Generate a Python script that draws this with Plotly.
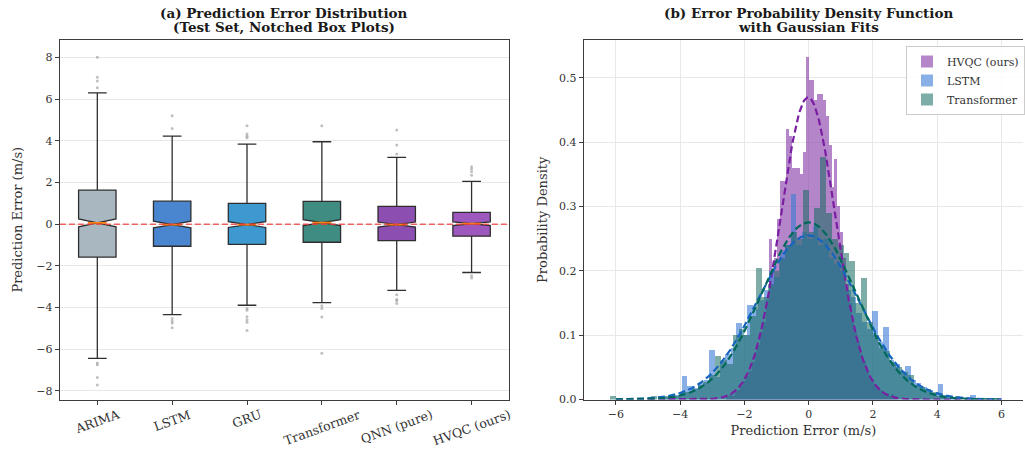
import numpy as np
import plotly.graph_objects as go

# ---------------- data: panel (a) box plots ----------------
models = ["ARIMA", "LSTM", "GRU", "Transformer", "QNN (pure)", "HVQC (ours)"]
q1 = [-1.58, -1.06, -0.97, -0.87, -0.79, -0.58]
median = [0.06, -0.02, -0.02, 0.07, -0.02, 0.02]
q3 = [1.63, 1.10, 1.00, 1.09, 0.85, 0.56]
lower_whisker = [-6.44, -4.34, -3.89, -3.76, -3.18, -2.32]
upper_whisker = [6.29, 4.22, 3.84, 3.95, 3.20, 2.05]
notch_half = [0.19, 0.16, 0.14, 0.14, 0.12, 0.09]

arima_fliers = [8.0, 7.04, 6.86, 6.54, -6.66, -6.74, -7.35, -7.71]
lstm_fliers = [5.2, 4.59, -4.53, -4.65, -4.74, -4.97]
gru_fliers = [4.72, 4.32, 4.22, 4.14, -4.05, -4.13, -4.44, -4.58, -4.71, -5.1]
transformer_fliers = [4.72, -3.92, -4.05, -4.45, -6.19]
qnn_fliers = [4.51, 3.79, 3.36, -3.39, -3.61, -3.68, -3.81]
hvqc_fliers = [2.75, 2.64, 2.51, 2.35, -2.47, -2.58]

box_colors = ["#a9b7c0", "#4a86cf", "#3f99d1", "#3f8c82", "#8c4fb1", "#9e57bc"]

# ---------------- data: panel (b) histograms (density) ----------------
hist_names = ["HVQC (ours)", "LSTM", "Transformer"]
hist_start = [-2.58, -4.97, -6.19]
hist_width = [0.0888, 0.1695, 0.1818]
hvqc_density = [0.005, 0.008, 0.006, 0.012, 0.014, 0.021, 0.028, 0.036, 0.045, 0.058,
                0.074, 0.085, 0.105, 0.12, 0.155, 0.25, 0.20, 0.22, 0.28, 0.34,
                0.34, 0.42, 0.41, 0.36, 0.36, 0.36, 0.35, 0.385, 0.532, 0.497,
                0.497, 0.466, 0.475, 0.475, 0.466, 0.44, 0.395, 0.33, 0.373, 0.30,
                0.26, 0.22, 0.18, 0.15, 0.125, 0.105, 0.09, 0.07, 0.06, 0.045,
                0.036, 0.03, 0.024, 0.018, 0.014, 0.009, 0.01, 0.006, 0.008, 0.005]
lstm_density = [0.0035, 0.0, 0.0035, 0.0035, 0.007, 0.007, 0.036, 0.021, 0.018, 0.025,
                0.03, 0.077, 0.035, 0.06, 0.07, 0.08, 0.119, 0.10, 0.147, 0.14,
                0.155, 0.17, 0.20, 0.19, 0.23, 0.24, 0.32, 0.24, 0.26, 0.25,
                0.27, 0.24, 0.25, 0.22, 0.21, 0.20, 0.17, 0.16, 0.134, 0.12,
                0.11, 0.137, 0.09, 0.112, 0.062, 0.055, 0.045, 0.052, 0.03, 0.025,
                0.02, 0.014, 0.01, 0.024, 0.007, 0.004, 0.0035, 0.0, 0.0035, 0.007]
transformer_density = [0.005, 0.0, 0.0, 0.0, 0.0, 0.0, 0.0, 0.005, 0.0, 0.005,
                       0.005, 0.005, 0.011, 0.011, 0.016, 0.022, 0.027, 0.038, 0.067, 0.062,
                       0.055, 0.10, 0.11, 0.10, 0.13, 0.205, 0.16, 0.18, 0.20, 0.22,
                       0.24, 0.26, 0.25, 0.326, 0.26, 0.297, 0.376, 0.29, 0.25, 0.24,
                       0.227, 0.215, 0.15, 0.188, 0.12, 0.10, 0.08, 0.075, 0.059, 0.05,
                       0.043, 0.038, 0.022, 0.02, 0.016, 0.011, 0.005, 0.005, 0.0, 0.005]
hist_fill = ["rgba(142,68,173,0.65)", "rgba(58,123,213,0.6)", "rgba(20,105,95,0.55)"]

# Gaussian fit parameters
fit_mean = [-0.02, -0.02, 0.0]
fit_std = [0.85, 1.565, 1.45]
fit_colors = ["#7b1fa2", "#1565c0", "#00695c"]
fit_xmin, fit_xmax = -6.0, 6.0

title_a = ["(a) Prediction Error Distribution", "(Test Set, Notched Box Plots)"]
title_b = ["(b) Error Probability Density Function", "with Gaussian Fits"]

# ---------------- figure ----------------
W, H = 1025, 450
fig = go.Figure()

fliers = [arima_fliers, lstm_fliers, gru_fliers, transformer_fliers, qnn_fliers, hvqc_fliers]
for i, m in enumerate(models):
    fig.add_trace(go.Box(
        x=[i], q1=[q1[i]], median=[median[i]], q3=[q3[i]],
        lowerfence=[lower_whisker[i]], upperfence=[upper_whisker[i]],
        notched=True, notchspan=[notch_half[i]], notchwidth=0.5,
        width=0.5, whiskerwidth=0.5, boxpoints=False,
        fillcolor=box_colors[i], line=dict(color="#2e2e2e", width=1.3),
        name=m, showlegend=False, hoverinfo="skip",
        xaxis="x", yaxis="y"))

# outliers
fx, fy = [], []
for i, fl in enumerate(fliers):
    fx += [i] * len(fl)
    fy += fl
fig.add_trace(go.Scatter(x=fx, y=fy, mode="markers",
                         marker=dict(size=3, color="rgba(150,150,150,0.6)"),
                         showlegend=False, xaxis="x", yaxis="y", hoverinfo="skip"))

# orange median segments
mx, my = [], []
for i in range(len(models)):
    hw = 0.5 * 0.5 * 0.5
    mx += [i - hw, i + hw, None]
    my += [median[i], median[i], None]
fig.add_trace(go.Scatter(x=mx, y=my, mode="lines",
                         line=dict(color="#ff7f0e", width=1.7),
                         showlegend=False, xaxis="x", yaxis="y", hoverinfo="skip"))

# histograms
dens = [hvqc_density, lstm_density, transformer_density]
for k, name in enumerate(hist_names):
    centers = [hist_start[k] + hist_width[k] * (j + 0.5) for j in range(len(dens[k]))]
    fig.add_trace(go.Bar(x=centers, y=dens[k], width=hist_width[k],
                         marker=dict(color=hist_fill[k], line=dict(width=0)),
                         name=name, xaxis="x2", yaxis="y2", hoverinfo="skip"))

# Gaussian fits
xs = np.linspace(fit_xmin, fit_xmax, 400)
for k, name in enumerate(hist_names):
    pdf = np.exp(-0.5 * ((xs - fit_mean[k]) / fit_std[k]) ** 2) / (fit_std[k] * np.sqrt(2 * np.pi))
    fig.add_trace(go.Scatter(x=xs, y=pdf, mode="lines",
                             line=dict(color=fit_colors[k], width=2.2, dash="7px,3.5px"),
                             showlegend=False, xaxis="x2", yaxis="y2", hoverinfo="skip"))

font_family = "DejaVu Serif"
axis_common = dict(showline=True, linecolor="#3c3c3c", linewidth=1.2, ticks="outside",
                   ticklen=4, tickcolor="#3c3c3c", zeroline=False, automargin=False,
                   tickfont=dict(family=font_family, size=11, color="#333"),
                   gridcolor="#e8e8e8", gridwidth=1)
title_font = dict(family=font_family, size=13, color="#333")

ydom = [1 - 399.5 / H, 1 - 40 / H]

# rotated, centre-aligned category labels (as in the reference)
cat_labels = [dict(text=m, x=i, xref="x", y=1 - 404 / H, yref="paper",
                   xanchor="center", yanchor="top", textangle=-20, showarrow=False,
                   font=dict(family=font_family, size=12.5, color="#333"))
              for i, m in enumerate(models)]

titles = []
for cx, lines in [((60 + 510) / 2, title_a), ((585 + 1035) / 2, title_b)]:
    for li, (txt, cy) in enumerate(zip(lines, [13, 27])):
        titles.append(dict(text="<b>" + txt + "</b>", x=cx / W, y=1 - cy / H,
                           xref="paper", yref="paper", xanchor="center", yanchor="middle",
                           showarrow=False,
                           font=dict(family=font_family, size=13.5, color="#1a1a1a")))

fig.update_layout(
    width=W, height=H, margin=dict(l=0, r=0, t=0, b=0),
    paper_bgcolor="white", plot_bgcolor="white",
    font=dict(family=font_family, size=11, color="#333"),
    barmode="overlay", bargap=0,
    xaxis=dict(domain=[60 / W, 510 / W], range=[-0.5, 5.5], tickvals=list(range(len(models))),
               showticklabels=False, showgrid=False, mirror=True, anchor="y",
               **axis_common),
    yaxis=dict(domain=ydom, range=[-8.41, 8.83], tickvals=list(range(-8, 9, 2)),
               showgrid=True, mirror=True, anchor="x",
               title=dict(text="Prediction Error (m/s)", standoff=10, font=title_font),
               **axis_common),
    xaxis2=dict(domain=[585 / W, 1.0], range=[-7.0, 6.67], tickvals=list(range(-6, 7, 2)),
                showgrid=True, mirror=True, anchor="y2",
                title=dict(text="Prediction Error (m/s)", standoff=6, font=title_font),
                **axis_common),
    yaxis2=dict(domain=ydom, range=[0, 0.5585], tickvals=[0, 0.1, 0.2, 0.3, 0.4, 0.5],
                tickformat=".1f", showgrid=True, mirror=False, anchor="x2",
                title=dict(text="Probability Density", standoff=8, font=title_font),
                **axis_common),
    legend=dict(x=908 / W, y=1 - 46 / H, xanchor="left", yanchor="top",
                bgcolor="rgba(255,255,255,0.85)", bordercolor="#cccccc", borderwidth=1,
                font=dict(family=font_family, size=11, color="#333"),
                tracegroupgap=0),
    shapes=[dict(type="line", xref="x domain", yref="y", x0=0, x1=1, y0=0, y1=0,
                 line=dict(color="rgba(240,60,60,0.8)", width=1.5, dash="6px,3px"),
                 layer="above")],
    annotations=titles + cat_labels,
)

fig.write_html("out.html", config={"displayModeBar": False},
               post_script="document.body.style.margin='0px';")
